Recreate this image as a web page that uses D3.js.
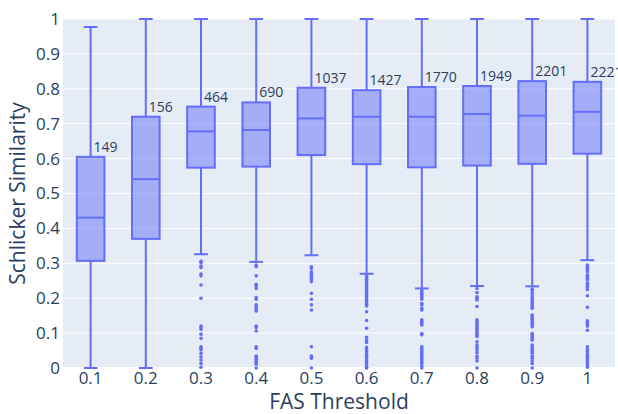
<!DOCTYPE html>
<html>
<head>
<meta charset="utf-8">
<script src="https://cdn.jsdelivr.net/npm/d3@7"></script>
<style>
  body { margin: 0; background: #fff; }
  text { font-family: "Open Sans", verdana, arial, sans-serif; }
</style>
</head>
<body>
<div id="chart"></div>
<script>
var width = 618, height = 414;
var margin = {left: 63, right: 3, top: 19, bottom: 46};

var categories = ['0.1', '0.2', '0.3', '0.4', '0.5', '0.6', '0.7', '0.8', '0.9', '1'];
var counts = [149, 156, 464, 690, 1037, 1427, 1770, 1949, 2201, 2221];
var lowerFence = [0, 0, 0.326, 0.304, 0.323, 0.270, 0.228, 0.235, 0.234, 0.309];
var q1 = [0.307, 0.370, 0.574, 0.577, 0.610, 0.584, 0.575, 0.580, 0.585, 0.614];
var median = [0.431, 0.541, 0.678, 0.682, 0.715, 0.720, 0.720, 0.728, 0.723, 0.734];
var q3 = [0.605, 0.720, 0.749, 0.761, 0.803, 0.796, 0.805, 0.808, 0.822, 0.820];
var upperFence = [0.977, 1, 1, 1, 1, 1, 1, 1, 1, 1];
var outliers = [
  [],
  [],
  [0.306, 0.302, 0.292, 0.288, 0.269, 0.264, 0.238, 0.200, 0.120, 0.116, 0.111, 0.097, 0.085,
   0.061, 0.056, 0.052, 0.042, 0.032, 0.023, 0.013, 0.002],
  [0.295, 0.290, 0.264, 0.240, 0.235, 0.228, 0.202, 0.197, 0.181, 0.176, 0.168, 0.163, 0.120,
   0.116, 0.106, 0.061, 0.056, 0.034, 0.031, 0.026, 0.021, 0.016, 0.011, 0.0],
  [0.290, 0.286, 0.276, 0.271, 0.266, 0.262, 0.257, 0.252, 0.247, 0.214, 0.197, 0.181, 0.166,
   0.061, 0.034, 0.028, 0.0],
  [0.264, 0.259, 0.254, 0.249, 0.245, 0.240, 0.235, 0.230, 0.225, 0.221, 0.216, 0.211, 0.206,
   0.202, 0.197, 0.192, 0.187, 0.182, 0.178, 0.161, 0.136, 0.114, 0.088, 0.080, 0.073, 0.059,
   0.053, 0.047, 0.040, 0.034, 0.028, 0.021, 0.015, 0.009, 0.002, 0.0],
  [0.222, 0.216, 0.211, 0.206, 0.202, 0.197, 0.185, 0.181, 0.171, 0.166, 0.138, 0.133, 0.128,
   0.123, 0.099, 0.095, 0.061, 0.056, 0.052, 0.047, 0.042, 0.037, 0.032, 0.028, 0.023, 0.018,
   0.013, 0.006, 0.0],
  [0.228, 0.216, 0.204, 0.200, 0.195, 0.176, 0.138, 0.133, 0.128, 0.123, 0.118, 0.114, 0.109,
   0.104, 0.099, 0.095, 0.090, 0.075, 0.066, 0.059, 0.052, 0.044, 0.034, 0.028, 0.020, 0.0],
  [0.226, 0.221, 0.214, 0.206, 0.200, 0.195, 0.190, 0.185, 0.181, 0.176, 0.171, 0.152, 0.147,
   0.142, 0.138, 0.133, 0.128, 0.123, 0.118, 0.099, 0.095, 0.090, 0.085, 0.080, 0.066, 0.061,
   0.056, 0.052, 0.047, 0.042, 0.034, 0.028, 0.020, 0.013, 0.0],
  [0.295, 0.290, 0.286, 0.281, 0.276, 0.266, 0.262, 0.257, 0.252, 0.243, 0.238, 0.233, 0.225,
   0.207, 0.174, 0.135, 0.130, 0.125, 0.120, 0.108, 0.061, 0.053, 0.047, 0.040, 0.034, 0.028,
   0.021, 0.015, 0.009, 0.002]
];
var yTicks = [0, 0.1, 0.2, 0.3, 0.4, 0.5, 0.6, 0.7, 0.8, 0.9, 1];

var boxes = categories.map(function(c, i) {
  return {cat: c, n: counts[i], lo: lowerFence[i], q1: q1[i], med: median[i],
          q3: q3[i], hi: upperFence[i], out: outliers[i]};
});

var lineColor = '#636efa', textColor = '#2a3f5f';

var svg = d3.select('#chart')
  .append('svg')
  .attr('width', width)
  .attr('height', height);

var x = d3.scaleBand()
  .domain(categories)
  .range([margin.left, width - margin.right]);

var y = d3.scaleLinear()
  .domain([0, 1])
  .range([height - margin.bottom, margin.top]);

// plot background
svg.append('rect')
  .attr('x', margin.left)
  .attr('y', margin.top)
  .attr('width', width - margin.left - margin.right)
  .attr('height', height - margin.top - margin.bottom)
  .attr('fill', '#e5ecf6');

// grid
svg.append('g')
  .selectAll('line')
  .data(yTicks)
  .enter()
  .append('line')
  .attr('x1', margin.left)
  .attr('x2', width - margin.right)
  .attr('y1', function(d) { return y(d); })
  .attr('y2', function(d) { return y(d); })
  .attr('stroke', '#fff')
  .attr('stroke-width', function(d) { return d === 0 ? 2 : 1; });

// axes
var yAxis = svg.append('g')
  .attr('transform', 'translate(' + margin.left + ',0)')
  .call(d3.axisLeft(y).tickValues(yTicks).tickFormat(d3.format('~g')).tickSize(0).tickPadding(3));
var xAxis = svg.append('g')
  .attr('transform', 'translate(0,' + (height - margin.bottom) + ')')
  .call(d3.axisBottom(x).tickSize(0).tickPadding(4));
[yAxis, xAxis].forEach(function(a) {
  a.select('.domain').remove();
  a.selectAll('text').attr('fill', textColor).style('font-size', '17px');
});

var bw = x.bandwidth() * 0.5;
var cap = bw * 0.5;

var g = svg.selectAll('.box')
  .data(boxes)
  .enter()
  .append('g')
  .attr('class', 'box')
  .attr('transform', function(d) { return 'translate(' + (x(d.cat) + x.bandwidth() / 2) + ',0)'; });

// whiskers
g.append('line')
  .attr('y1', function(d) { return y(d.lo); })
  .attr('y2', function(d) { return y(d.q1); })
  .attr('stroke', lineColor).attr('stroke-width', 2);
g.append('line')
  .attr('y1', function(d) { return y(d.q3); })
  .attr('y2', function(d) { return y(d.hi); })
  .attr('stroke', lineColor).attr('stroke-width', 2);
g.append('line')
  .attr('x1', -cap / 2).attr('x2', cap / 2)
  .attr('y1', function(d) { return y(d.lo); })
  .attr('y2', function(d) { return y(d.lo); })
  .attr('stroke', lineColor).attr('stroke-width', 2);
g.append('line')
  .attr('x1', -cap / 2).attr('x2', cap / 2)
  .attr('y1', function(d) { return y(d.hi); })
  .attr('y2', function(d) { return y(d.hi); })
  .attr('stroke', lineColor).attr('stroke-width', 2);

// box
g.append('rect')
  .attr('x', -bw / 2)
  .attr('width', bw)
  .attr('y', function(d) { return y(d.q3); })
  .attr('height', function(d) { return y(d.q1) - y(d.q3); })
  .attr('fill', 'rgba(99,110,250,0.5)')
  .attr('stroke', lineColor)
  .attr('stroke-width', 2);
g.append('line')
  .attr('x1', -bw / 2).attr('x2', bw / 2)
  .attr('y1', function(d) { return y(d.med); })
  .attr('y2', function(d) { return y(d.med); })
  .attr('stroke', lineColor).attr('stroke-width', 2);

// outliers
g.selectAll('circle')
  .data(function(d) { return d.out; })
  .enter()
  .append('circle')
  .attr('cx', 0)
  .attr('cy', function(v) { return y(v); })
  .attr('r', 1.8)
  .attr('fill', lineColor);

// counts
g.append('text')
  .attr('x', 3)
  .attr('y', function(d) { return y(d.q3) - 5; })
  .attr('fill', textColor)
  .style('font-size', '14px')
  .text(function(d) { return d.n; });

// titles
svg.append('text')
  .attr('x', (margin.left + width - margin.right) / 2)
  .attr('y', 409)
  .attr('text-anchor', 'middle')
  .attr('fill', textColor)
  .style('font-size', '21px')
  .text('FAS Threshold');

svg.append('text')
  .attr('transform', 'translate(25,' + ((margin.top + height - margin.bottom) / 2) + ') rotate(-90)')
  .attr('text-anchor', 'middle')
  .attr('fill', textColor)
  .style('font-size', '21px')
  .text('Schlicker Similarity');
</script>
</body>
</html>
